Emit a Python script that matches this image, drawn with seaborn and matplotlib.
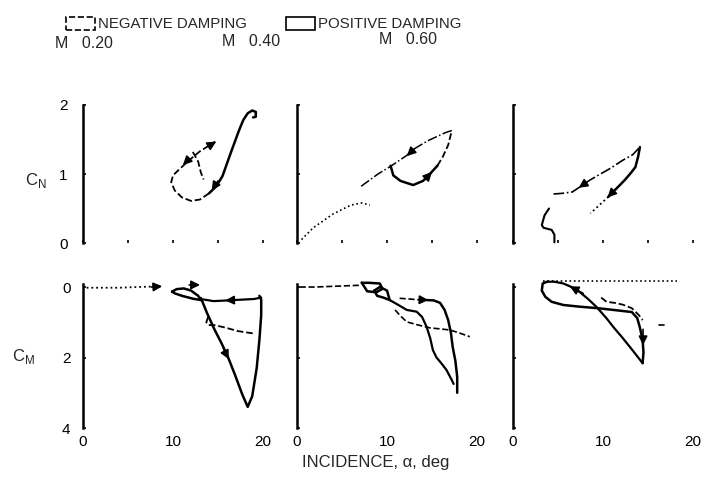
import numpy as np
import pandas as pd
import matplotlib.pyplot as plt
from matplotlib.patches import Rectangle
import seaborn as sns

# ---- data ----
mach_labels = ["M   0.20", "M   0.40", "M   0.60"]

# C_N, M = 0.20
cn20_solid_x = [14.0, 14.8, 15.5, 16.4, 17.3, 17.8, 18.3, 18.8, 19.2, 19.2, 18.9]
cn20_solid_y = [0.72, 0.82, 0.97, 1.30, 1.62, 1.78, 1.88, 1.92, 1.90, 1.83, 1.82]
cn20_dash_x = [14.0, 13.0, 12.0, 11.0, 10.2, 9.8, 10.0, 10.8, 11.8, 13.0, 14.7]
cn20_dash_y = [0.72, 0.63, 0.61, 0.66, 0.76, 0.88, 0.98, 1.08, 1.20, 1.33, 1.47]
cn20_inner_x = [12.2, 12.8, 13.1, 13.4]
cn20_inner_y = [1.32, 1.18, 1.02, 0.92]
cn20_arrows = [(15.0, 0.90, 14.3, 0.76), (13.9, 1.40, 14.8, 1.47), (11.8, 1.22, 11.1, 1.13)]

# C_N, M = 0.40
cn40_static_x = [0.5, 1.8, 4.0, 6.0, 7.2, 8.1]
cn40_static_y = [0.05, 0.22, 0.42, 0.55, 0.58, 0.55]
cn40_solid_x = [10.4, 10.7, 11.5, 12.9, 14.0, 14.9, 15.6]
cn40_solid_y = [1.12, 0.98, 0.90, 0.84, 0.90, 1.02, 1.12]
cn40_rise_x = [15.6, 16.2, 16.8, 17.2]
cn40_rise_y = [1.12, 1.25, 1.42, 1.63]
cn40_upper_x = [17.2, 16.5, 14.5, 13.1, 12.2, 10.5, 9.0, 7.0]
cn40_upper_y = [1.63, 1.60, 1.48, 1.37, 1.27, 1.12, 1.00, 0.81]
cn40_arrows = [(14.2, 0.92, 15.0, 1.03), (13.0, 1.36, 12.2, 1.26)]

# C_N, M = 0.60
cn60_solid_x = [14.1, 13.9, 13.6, 13.0, 12.4, 11.5, 10.6]
cn60_solid_y = [1.39, 1.25, 1.10, 1.00, 0.91, 0.79, 0.67]
cn60_low_x = [10.6, 9.6, 8.6]
cn60_low_y = [0.67, 0.55, 0.43]
cn60_upper_x = [4.5, 5.5, 6.6, 7.4, 8.4, 9.3, 10.8, 12.2, 13.3, 14.1]
cn60_upper_y = [0.71, 0.72, 0.74, 0.81, 0.90, 0.97, 1.08, 1.20, 1.28, 1.39]
cn60_hook_x = [4.0, 3.5, 3.2, 3.4, 4.3, 4.6, 4.6]
cn60_hook_y = [0.50, 0.40, 0.26, 0.22, 0.19, 0.12, 0.01]
cn60_arrows = [(11.4, 0.78, 10.5, 0.66), (8.2, 0.88, 7.3, 0.80)]

# C_M, M = 0.20
cm20_static_x = [0.4, 2.0, 4.0, 6.0, 8.6]
cm20_static_y = [0.02, 0.02, 0.02, 0.0, -0.02]
cm20_loop_x = [9.9, 10.4, 11.2, 12.0, 12.8, 13.1, 12.2, 11.0, 10.2, 9.9]
cm20_loop_y = [0.13, 0.06, 0.04, 0.10, 0.25, 0.37, 0.33, 0.25, 0.18, 0.13]
cm20_main_x = [13.1, 13.8, 14.6, 15.4, 16.1, 16.9, 17.7, 18.3, 18.8, 19.3, 19.6, 19.8, 19.8, 19.6]
cm20_main_y = [0.31, 0.75, 1.20, 1.60, 1.98, 2.50, 3.05, 3.40, 3.10, 2.30, 1.50, 0.80, 0.35, 0.25]
cm20_flat_x = [13.3, 14.5, 16.1, 17.5, 19.0, 19.8]
cm20_flat_y = [0.35, 0.40, 0.38, 0.36, 0.34, 0.30]
cm20_dash_x = [13.9, 13.7, 13.9, 14.6, 15.8, 17.2, 19.0]
cm20_dash_y = [0.85, 1.00, 1.08, 1.08, 1.15, 1.25, 1.32]
cm20_arrows = [(7.6, 0.0, 8.8, -0.02), (11.8, -0.06, 13.0, -0.06), (16.9, 0.37, 15.8, 0.38),
               (15.6, 1.75, 16.2, 2.05)]

# C_M, M = 0.40
cm40_static_x = [0.3, 2.0, 4.0, 6.0, 7.0]
cm40_static_y = [0.0, 0.0, -0.02, -0.04, -0.05]
cm40_loopa_x = [7.2, 8.0, 9.2, 9.5, 8.8, 7.8, 7.2]
cm40_loopa_y = [-0.12, -0.12, -0.10, 0.05, 0.15, 0.12, -0.12]
cm40_loopb_x = [8.6, 9.2, 10.0, 10.3, 9.6, 8.9, 8.6]
cm40_loopb_y = [0.10, 0.00, 0.10, 0.37, 0.30, 0.25, 0.10]
cm40_left_x = [10.3, 11.2, 12.2, 13.3, 13.9, 14.4, 14.8, 15.1, 15.5, 15.9, 16.6, 17.2, 17.4]
cm40_left_y = [0.37, 0.50, 0.65, 0.70, 0.85, 1.13, 1.45, 1.79, 2.00, 2.12, 2.35, 2.64, 2.75]
cm40_right_x = [14.4, 15.2, 15.9, 16.4, 16.8, 17.1, 17.3, 17.6, 17.8, 17.8]
cm40_right_y = [0.37, 0.38, 0.45, 0.65, 0.94, 1.30, 1.70, 2.10, 2.55, 3.00]
cm40_flat_x = [11.4, 12.5, 13.5, 14.4]
cm40_flat_y = [0.32, 0.34, 0.36, 0.37]
cm40_dash_x = [10.9, 11.5, 12.2, 13.5, 14.8, 16.0, 17.0, 18.0, 19.2]
cm40_dash_y = [0.65, 0.82, 0.99, 1.08, 1.16, 1.19, 1.22, 1.30, 1.41]
cm40_arrows = [(13.6, 0.36, 14.6, 0.37)]

# C_M, M = 0.60
cm60_static_x = [3.3, 6.0, 9.0, 12.0, 15.0, 18.2]
cm60_static_y = [-0.17, -0.17, -0.17, -0.17, -0.17, -0.17]
cm60_down_x = [3.8, 3.3, 3.2, 3.6, 4.3, 5.6, 7.5, 9.4, 11.5, 13.2, 13.8, 14.1, 14.4, 14.5, 14.4]
cm60_down_y = [-0.15, -0.10, 0.10, 0.28, 0.42, 0.51, 0.56, 0.60, 0.66, 0.71, 0.88, 1.15, 1.50, 1.85, 2.16]
cm60_up_x = [14.4, 13.3, 12.2, 11.2, 10.4, 9.3, 8.3, 7.4, 6.5, 5.6, 4.6, 3.8]
cm60_up_y = [2.16, 1.80, 1.45, 1.15, 0.89, 0.57, 0.33, 0.14, 0.00, -0.10, -0.15, -0.15]
cm60_dash_x = [9.8, 10.4, 11.3, 12.2, 13.2, 14.0, 14.4]
cm60_dash_y = [0.30, 0.42, 0.45, 0.50, 0.60, 0.80, 0.94]
cm60_tail_x = [16.2, 16.8]
cm60_tail_y = [1.08, 1.08]
cm60_arrows = [(14.45, 1.2, 14.45, 1.65), (7.8, 0.18, 6.3, -0.02)]

# ---- figure ----
sns.set_style("white")
plt.rcParams['font.family'] = ['Liberation Sans', 'DejaVu Sans']

fig = plt.figure(figsize=(7.02, 4.79), dpi=100)

lefts = [83 / 702, 297 / 702, 513 / 702]
width = 180 / 702
top_axes = [fig.add_axes([l, 1 - 243 / 479, width, 138 / 479]) for l in lefts]
bot_axes = [fig.add_axes([l, 1 - 428 / 479, width, 144.5 / 479]) for l in lefts]


def draw(ax, xs, ys, ls='-', lw=1.6):
    sns.lineplot(x=xs, y=ys, sort=False, estimator=None, ax=ax, color='black',
                 linestyle=ls, linewidth=lw, clip_on=False)


def arrows(ax, pts):
    for x0, y0, x1, y1 in pts:
        ax.annotate('', xy=(x1, y1), xytext=(x0, y0), annotation_clip=False,
                    arrowprops=dict(arrowstyle='-|>', color='black', lw=1.2,
                                    mutation_scale=13, shrinkA=0, shrinkB=0))


# top row, C_N
ax = top_axes[0]
draw(ax, cn20_solid_x, cn20_solid_y, '-', 1.8)
draw(ax, cn20_dash_x, cn20_dash_y, '--', 1.3)
draw(ax, cn20_inner_x, cn20_inner_y, '--', 1.3)
arrows(ax, cn20_arrows)

ax = top_axes[1]
draw(ax, cn40_static_x, cn40_static_y, ':', 1.2)
draw(ax, cn40_solid_x, cn40_solid_y, '-', 1.8)
draw(ax, cn40_rise_x, cn40_rise_y, '--', 1.3)
draw(ax, cn40_upper_x, cn40_upper_y, '-.', 1.1)
arrows(ax, cn40_arrows)

ax = top_axes[2]
draw(ax, cn60_solid_x, cn60_solid_y, '-', 1.8)
draw(ax, cn60_low_x, cn60_low_y, ':', 1.3)
draw(ax, cn60_upper_x, cn60_upper_y, '-.', 1.2)
draw(ax, cn60_hook_x, cn60_hook_y, '-', 1.5)
arrows(ax, cn60_arrows)

# bottom row, C_M
ax = bot_axes[0]
draw(ax, cm20_static_x, cm20_static_y, ':', 1.3)
draw(ax, cm20_loop_x, cm20_loop_y, '-', 1.8)
draw(ax, cm20_main_x, cm20_main_y, '-', 1.8)
draw(ax, cm20_flat_x, cm20_flat_y, '-', 1.6)
draw(ax, cm20_dash_x, cm20_dash_y, '--', 1.3)
arrows(ax, cm20_arrows)

ax = bot_axes[1]
draw(ax, cm40_static_x, cm40_static_y, '--', 1.2)
draw(ax, cm40_loopa_x, cm40_loopa_y, '-', 1.8)
draw(ax, cm40_loopb_x, cm40_loopb_y, '-', 1.8)
draw(ax, cm40_left_x, cm40_left_y, '-', 1.6)
draw(ax, cm40_right_x, cm40_right_y, '-', 1.8)
draw(ax, cm40_flat_x, cm40_flat_y, '--', 1.2)
draw(ax, cm40_dash_x, cm40_dash_y, '--', 1.2)
arrows(ax, cm40_arrows)

ax = bot_axes[2]
draw(ax, cm60_static_x, cm60_static_y, ':', 1.2)
draw(ax, cm60_down_x, cm60_down_y, '-', 1.8)
draw(ax, cm60_up_x, cm60_up_y, '-', 1.6)
draw(ax, cm60_dash_x, cm60_dash_y, '--', 1.3)
draw(ax, cm60_tail_x, cm60_tail_y, '-', 1.2)
arrows(ax, cm60_arrows)

# axes styling
for i, ax in enumerate(top_axes + bot_axes):
    for s in ['top', 'right', 'bottom']:
        ax.spines[s].set_visible(False)
    ax.spines['left'].set_linewidth(1.8)
    ax.spines['left'].set_color('black')
    ax.set_xlim(0, 20)
    ax.set_xlabel('')
    ax.set_ylabel('')
    ax.tick_params(axis='both', bottom=True, left=True, direction='in', length=2.5,
                   width=1.2, colors='black', labelsize=11)
    col = i % 3
    if i < 3:
        ax.set_ylim(0, 2)
        ax.set_yticks([0, 1, 2])
        ax.set_xticks([0, 5, 10, 15, 20])
        ax.set_xticklabels([])
        ax.tick_params(axis='y', pad=11)
    else:
        ax.set_ylim(4, -0.1)
        ax.set_yticks([0, 2, 4])
        ax.set_xticks([0, 10, 20])
        ax.tick_params(axis='x', length=0, pad=5)
        ax.tick_params(axis='y', pad=9)
    if col != 0:
        ax.set_yticklabels([])

top_axes[0].set_yticklabels(['0', '1', '2'])
bot_axes[0].set_yticklabels(['0', '2', '4'])

fig.text(25 / 702, 1 - 180 / 479, r'C$_{\mathregular{N}}$', fontsize=12, va='center')
fig.text(12 / 702, 1 - 357 / 479, r'C$_{\mathregular{M}}$', fontsize=12, va='center')

for xpos, ypos, lab in zip([55, 222, 379], [43, 42, 40], mach_labels):
    fig.text(xpos / 702, 1 - ypos / 479, lab, fontsize=11.5, va='center')

fig.text(376 / 702, 1 - 462 / 479, 'INCIDENCE, \u03b1, deg', fontsize=12, ha='center', va='center')

handles = [Rectangle((0, 0), 1, 1, facecolor='white', edgecolor='black', linestyle='--', linewidth=1.2),
           Rectangle((0, 0), 1, 1, facecolor='white', edgecolor='black', linestyle='-', linewidth=1.2)]
fig.legend(handles, ['NEGATIVE DAMPING', 'POSITIVE DAMPING'], loc='center',
           bbox_to_anchor=(264 / 702, 1 - 24 / 479), ncol=2, frameon=False,
           fontsize=10.8, handlelength=1.9, handleheight=1.0, handletextpad=0.25,
           columnspacing=2.6, borderpad=0, borderaxespad=0)

fig.savefig('out.png', dpi=100)
